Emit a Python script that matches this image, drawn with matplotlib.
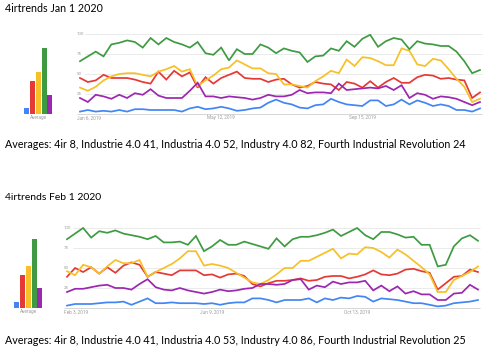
import matplotlib.pyplot as plt
import numpy as np

W, H = 491, 355

terms = ['4ir', 'Industrie 4.0', 'Industria 4.0', 'Industry 4.0', 'Fourth Industrial Revolution']
colors = ['#4285f4', '#e53935', '#f6c026', '#3f9b42', '#9c27b0']
ytick_vals = [25, 50, 75, 100]

# Snapshot taken Jan 1 2020 (weekly, Jan 6 2019 - Dec 29 2019)
jan_title = "4irtrends Jan 1 2020"
jan_dates = ['Jan 6, 2019', 'May 12, 2019', 'Sep 15, 2019']
jan_date_weeks = [0, 18, 36]
jan_avg = [8, 41, 52, 82, 24]
jan_4ir = [3, 5, 3, 4, 3, 5, 3, 6, 6, 5, 5, 5, 5, 3, 7, 9, 6, 7, 9, 7,
           4, 5, 7, 8, 14, 18, 14, 12, 8, 7, 11, 12, 19, 15, 12, 11, 10, 17, 17, 10,
           12, 18, 12, 17, 14, 10, 12, 10, 5, 5, 3, 7]
jan_industrie = [45, 40, 42, 49, 45, 45, 45, 43, 40, 38, 53, 43, 54, 47, 52, 33, 46, 38, 45, 49,
                 53, 45, 44, 44, 40, 43, 44, 37, 33, 35, 40, 38, 37, 30, 40, 38, 33, 41, 33, 40,
                 45, 39, 39, 46, 49, 48, 44, 45, 43, 42, 20, 27]
jan_industria = [33, 29, 34, 42, 47, 50, 51, 51, 49, 47, 53, 56, 60, 53, 56, 35, 42, 48, 56, 58,
                 67, 62, 57, 57, 51, 50, 37, 37, 35, 33, 41, 47, 54, 51, 68, 60, 71, 70, 66, 61,
                 61, 82, 79, 62, 60, 69, 67, 56, 44, 34, 15, 19]
jan_industry = [66, 72, 78, 72, 87, 89, 92, 90, 83, 95, 87, 95, 90, 87, 83, 90, 76, 74, 83, 67,
                81, 75, 75, 87, 83, 76, 82, 79, 77, 65, 72, 73, 82, 79, 91, 84, 94, 99, 84, 91,
                95, 93, 81, 91, 88, 87, 85, 85, 78, 66, 51, 55]
jan_fourth = [20, 15, 24, 22, 19, 24, 20, 26, 24, 31, 23, 20, 20, 20, 29, 39, 22, 22, 20, 22,
              21, 20, 18, 20, 24, 22, 22, 24, 30, 26, 27, 27, 26, 38, 30, 31, 32, 33, 32, 35,
              30, 36, 20, 26, 24, 19, 22, 21, 19, 15, 11, 15]

# Snapshot taken Feb 1 2020 (weekly, Feb 3 2019 - Jan 26 2020)
feb_title = "4irtrends Feb 1 2020"
feb_dates = ['Feb 3, 2019', 'Jun 9, 2019', 'Oct 13, 2019']
feb_date_weeks = [0, 18, 36]
feb_avg = [8, 41, 53, 86, 25]
feb_4ir = [3, 5, 5, 5, 6, 7, 7, 8, 4, 8, 12, 6, 6, 7, 6, 6, 6, 5, 6, 4,
           6, 7, 7, 12, 12, 10, 7, 10, 10, 10, 12, 7, 12, 10, 13, 12, 15, 14, 8, 12,
           11, 10, 8, 6, 6, 4, 2, 3, 6, 7, 8, 10]
feb_industrie = [39, 50, 45, 51, 43, 51, 44, 53, 57, 54, 39, 45, 43, 41, 47, 47, 47, 41, 42, 38,
                 42, 43, 40, 30, 27, 31, 34, 34, 35, 37, 34, 35, 39, 40, 40, 37, 39, 42, 47, 42,
                 41, 43, 48, 49, 46, 44, 23, 31, 39, 40, 48, 45]
feb_industria = [46, 41, 54, 51, 43, 52, 60, 56, 56, 60, 39, 45, 50, 55, 62, 71, 71, 53, 55, 53,
                 50, 44, 38, 32, 30, 35, 42, 50, 50, 59, 59, 64, 69, 74, 62, 68, 67, 76, 75, 70,
                 63, 73, 67, 59, 51, 42, 20, 20, 35, 40, 45, 52]
feb_industry = [86, 93, 100, 88, 96, 94, 97, 93, 91, 89, 86, 90, 82, 82, 83, 79, 90, 71, 77, 85,
                79, 79, 83, 80, 77, 74, 87, 77, 86, 89, 89, 91, 94, 98, 90, 95, 100, 91, 86, 95,
                95, 92, 88, 89, 79, 79, 52, 54, 77, 87, 91, 84]
feb_fourth = [20, 24, 24, 26, 28, 29, 25, 25, 23, 30, 36, 26, 23, 22, 25, 22, 20, 18, 20, 23,
              21, 22, 24, 25, 30, 30, 29, 30, 35, 36, 23, 28, 26, 33, 30, 32, 32, 34, 22, 28,
              21, 27, 18, 21, 17, 17, 10, 10, 18, 19, 29, 23]

fig = plt.figure(figsize=(W / 100, H / 100), dpi=100)
fig.patch.set_facecolor('white')
renderer = fig.canvas.get_renderer()


def box(left, top, right, bottom):
    # pixel box -> figure fraction
    return [left / W, 1 - bottom / H, (right - left) / W, (bottom - top) / H]


def fit_text(y, s, width_px, size=8):
    # left-aligned text, font size scaled so it spans width_px
    t = fig.text(5 / W, 1 - y / H, s, fontsize=size, family='Lato', va='center', ha='left')
    w = t.get_window_extent(renderer).width
    t.set_fontsize(size * width_px / w)
    return t


def panel(title, title_y, avg, series, dates, date_weeks, bar_l, x0, x1, y_top, y_base, text_y):
    fit_text(title_y, title, 97)

    # bar chart of averages
    bx = fig.add_axes(box(bar_l, y_top, bar_l + 46, y_base))
    bx.bar(range(len(avg)), avg, width=0.88, color=colors)
    bx.set_xlim(-1.65, 6.25)
    bx.set_ylim(0, 100)
    bx.axis('off')
    bx.axhline(0, color='#cfcfcf', lw=0.6)
    bx.text(2, -4, 'Average', fontsize=3.4, color='#9e9e9e', family='Roboto', ha='center', va='center')

    # line chart
    n = len(series[0])
    ax = fig.add_axes(box(x0, y_top, x1, y_base))
    ax.set_xlim(0, n - 1)
    ax.set_ylim(0, 100)
    ax.axis('off')
    ax.hlines(ytick_vals, 0.7, n - 0.7, color='#e6e6e6', lw=0.6, clip_on=False)
    ax.hlines(0, -0.4, n - 0.7, color='#cfcfcf', lw=0.6, clip_on=False)
    for v in ytick_vals:
        ax.text(-0.4, v, str(v), fontsize=3.2, color='#9e9e9e', family='Roboto',
                ha='left', va='center')
    weeks = np.arange(n)
    for vals, c in zip(series, colors):
        ax.plot(weeks, vals, color=c, lw=1.25, clip_on=False, solid_joinstyle='miter')
    for i, (d, w) in enumerate(zip(dates, date_weeks)):
        ax.text(w - 0.4 if i == 0 else w, -5, d, fontsize=3.4, color='#9e9e9e', family='Roboto',
                ha='left' if i == 0 else 'center', va='center')

    txt = 'Averages: ' + ', '.join(f'{t} {a}' for t, a in zip(terms, avg))
    fit_text(text_y, txt, 463)


panel(jan_title, 9, jan_avg, [jan_4ir, jan_industrie, jan_industria, jan_industry, jan_fourth],
      jan_dates, jan_date_weeks, 17, 80, 480, 34, 114, 144)
panel(feb_title, 198, feb_avg, [feb_4ir, feb_industrie, feb_industria, feb_industry, feb_fourth],
      feb_dates, feb_date_weeks, 7, 67, 478, 228, 308, 341)

fig.savefig('out.png', dpi=100, facecolor='white')
